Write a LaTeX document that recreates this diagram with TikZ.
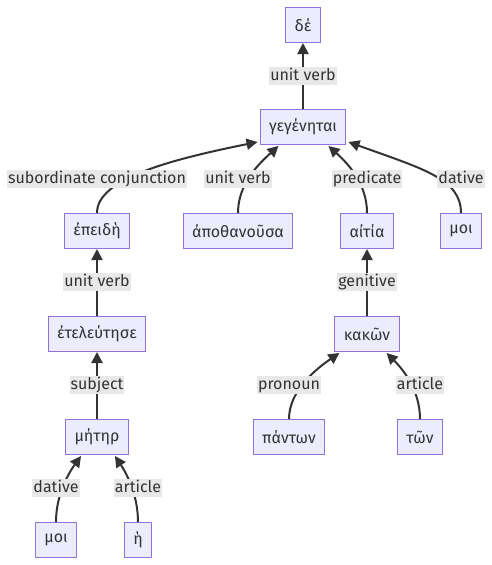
\documentclass[tikz,border=0pt]{standalone}
\usepackage{fontspec}
\setmainfont{Fira Sans}
\usetikzlibrary{arrows.meta}
\definecolor{wordfill}{HTML}{ECECFF}
\definecolor{worddraw}{HTML}{9370DB}
\definecolor{ink}{HTML}{333333}
\definecolor{relfill}{HTML}{E8E8E8}
\tikzset{
  word/.style={draw=worddraw,fill=wordfill,line width=1pt,text=ink,
    minimum height=35pt,inner xsep=9pt,inner ysep=0pt},
  rel/.style={fill=relfill,text=ink,inner xsep=1pt,inner ysep=1.5pt,
    text height=12pt,text depth=3.5pt},
  dep/.style={draw=ink,line width=2pt,-{Triangle[length=11pt,width=11pt]}}
}
\def\rise{.. controls +(0,-29) and}

\begin{document}
\begin{tikzpicture}[x=1pt,y=-1pt,font=\fontsize{16pt}{19pt}\selectfont]
  \useasboundingbox (0,0) rectangle (492,565);
  % words
  \node[word] (de)     at (303, 25) {δέ};
  \node[word] (gen)    at (303,127) {γεγένηται};
  \node[word] (epeidi) at ( 97,231) {ἐπειδὴ};
  \node[word] (apoth)  at (238,231) {ἀποθανοῦσα};
  \node[word] (aitia)  at (367,231) {αἰτία};
  \node[word] (moiA)   at (461,231) {μοι};
  \node[word] (etel)   at ( 97,334) {ἐτελεύτησε};
  \node[word] (kakon)  at (367,334) {κακῶν};
  \node[word] (meter)  at ( 97,437) {μήτηρ};
  \node[word] (panton) at (289,437) {πάντων};
  \node[word] (ton)    at (420,437) {τῶν};
  \node[word] (moiB)   at ( 56,540) {μοι};
  \node[word] (he)     at (138,540) {ἡ};
  % dependencies
  \draw[dep] (gen) -- (de);
  \draw[dep] (epeidi.north) .. controls +(0,-34) and +(-89,18) .. ([shift={(-2,-3)}]gen.south west);
  \draw[dep] (apoth.north) \rise +(-20,18) .. ([shift={(19,1)}]gen.south west);
  \draw[dep] (aitia.north) \rise +(20,18) .. ([shift={(-18,1)}]gen.south east);
  \draw[dep] (moiA.north) .. controls +(0,-34) and +(75,27) .. ([shift={(2,-3)}]gen.south east);
  \draw[dep] (etel) -- (epeidi);
  \draw[dep] (kakon) -- (aitia);
  \draw[dep] (meter) -- (etel);
  \draw[dep] (panton.north) \rise +(-22,15) .. ([shift={(5,1)}]kakon.south west);
  \draw[dep] (ton.north) \rise +(16,16) .. ([shift={(-13,1)}]kakon.south east);
  \draw[dep] (moiB.north) \rise +(-11,15) .. ([shift={(16,1)}]meter.south west);
  \draw[dep] (he.north) \rise +(10,15) .. ([shift={(-14,1)}]meter.south east);
  % relation labels
  \node[rel] (r-de)     at (303, 76) {unit verb};
  \node[rel] (r-epeidi) at ( 97,179) {subordinate conjunction};
  \node[rel] (r-apoth)  at (238,179) {unit verb};
  \node[rel] (r-aitia)  at (367,179) {predicate};
  \node[rel] (r-moiA)   at (461,179) {dative};
  \node[rel] (r-etel)   at ( 97,282) {unit verb};
  \node[rel] (r-kakon)  at (367,282) {genitive};
  \node[rel] (r-meter)  at ( 97,385) {subject};
  \node[rel] (r-panton) at (289,385) {pronoun};
  \node[rel] (r-ton)    at (420,385) {article};
  \node[rel] (r-moiB)   at ( 56,488) {dative};
  \node[rel] (r-he)     at (138,488) {article};
\end{tikzpicture}
\end{document}
